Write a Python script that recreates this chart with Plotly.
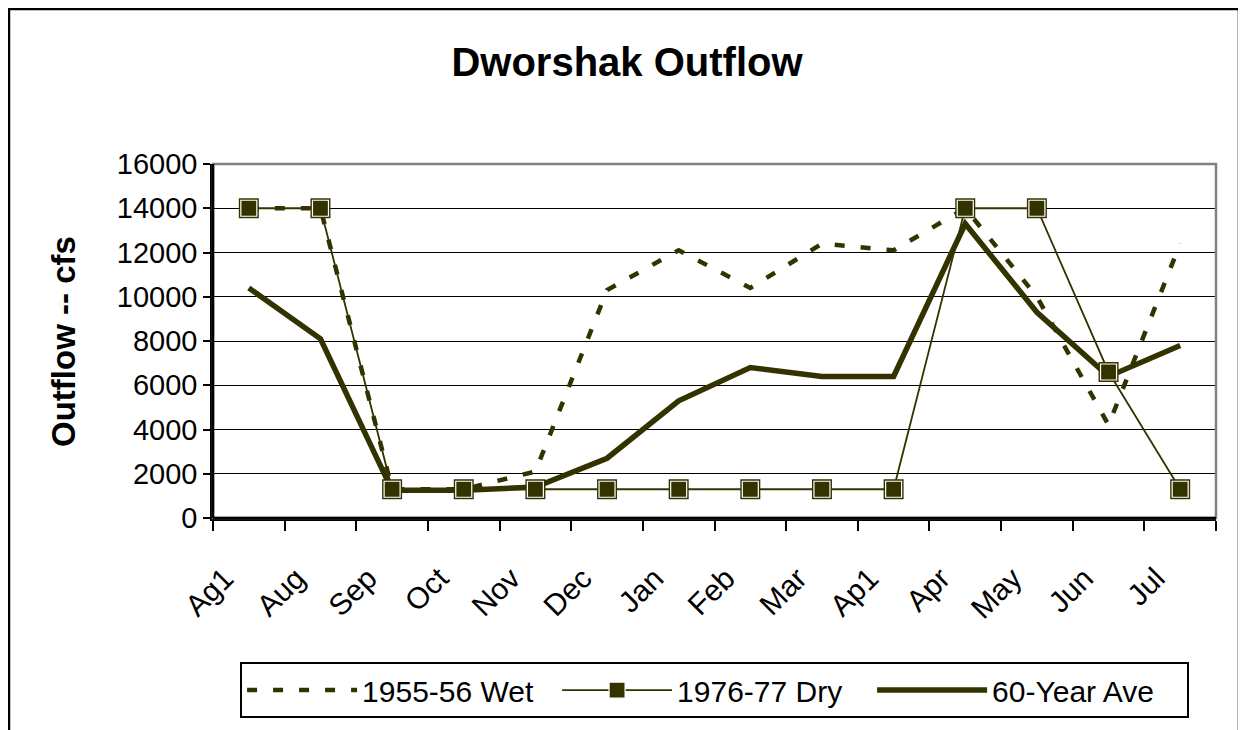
import plotly.graph_objects as go

# chart data
months = ["Ag1", "Aug", "Sep", "Oct", "Nov", "Dec", "Jan",
          "Feb", "Mar", "Ap1", "Apr", "May", "Jun", "Jul"]
wet_1955 = [14000, 14000, 1300, 1300, 2100, 10300, 12100,
            10400, 12400, 12100, 14000, 10000, 4200, 12400]
dry_1976 = [14000, 14000, 1300, 1300, 1300, 1300, 1300,
            1300, 1300, 1300, 14000, 14000, 6600, 1300]
ave_60yr = [10400, 8100, 1250, 1250, 1400, 2700, 5300,
            6800, 6400, 6400, 13300, 9300, 6400, 7800]

olive = "#333300"
font = "Arial, Liberation Sans, sans-serif"

fig = go.Figure()

fig.add_trace(go.Scatter(
    x=months, y=wet_1955, name="1955-56 Wet", mode="lines",
    line=dict(color=olive, width=4.5, dash="10px,16px"),
    legendrank=1,
))

fig.add_trace(go.Scatter(
    x=months, y=ave_60yr, name="60-Year Ave", mode="lines",
    line=dict(color=olive, width=5.5),
    legendrank=3,
))

# dark outer edge of the square markers
fig.add_trace(go.Scatter(
    x=months, y=dry_1976, mode="markers", showlegend=False, hoverinfo="skip",
    marker=dict(symbol="square", size=20, color=olive, line=dict(width=0)),
))

fig.add_trace(go.Scatter(
    x=months, y=dry_1976, name="1976-77 Dry", mode="lines+markers",
    line=dict(color=olive, width=1.8),
    marker=dict(symbol="square", size=16, color=olive,
                line=dict(color="white", width=1.2)),
    legendrank=2,
))

fig.update_xaxes(
    type="category",
    showgrid=False,
    showline=True, linecolor="black", linewidth=2.5,
    ticks="outside", tickson="boundaries", ticklen=10, tickwidth=2, tickcolor="black",
    tickangle=-45,
    tickfont=dict(family=font, size=30, color="black"),
    ticklabelstandoff=28, ticklabelshift=-24,
    range=[-0.5, 13.5],
)

fig.update_yaxes(
    range=[0, 16000], dtick=2000, tickformat="d",
    showgrid=True, gridcolor="black", gridwidth=1.2,
    zeroline=False,
    showline=True, linecolor="black", linewidth=2.5,
    ticks="outside", ticklen=7, tickwidth=1.5, tickcolor="black",
    tickfont=dict(family=font, size=29, color="black"),
)

# plot area border (gray top and right)
fig.add_shape(type="rect", xref="paper", yref="paper",
              x0=0, y0=0, x1=1, y1=1,
              line=dict(color="#808080", width=2.5), layer="above")
fig.add_shape(type="line", xref="paper", yref="paper",
              x0=0, y0=0, x1=0, y1=1,
              line=dict(color="black", width=2.5), layer="above")
fig.add_shape(type="line", xref="paper", yref="paper",
              x0=0, y0=0, x1=1, y1=0,
              line=dict(color="black", width=2.5), layer="above")

# outer chart frame
fig.add_shape(type="rect", xref="paper", yref="paper",
              x0=-0.2034, y0=-0.62, x1=1.0229, y1=1.4379,
              line=dict(color="black", width=2.5), layer="above")

fig.add_annotation(
    text="<b>Outflow -- cfs</b>", textangle=-90,
    xref="paper", yref="paper", x=-0.1496, y=0.5,
    xanchor="center", yanchor="middle",
    showarrow=False, font=dict(family=font, size=33, color="black"),
)

fig.update_layout(
    width=1238, height=722, autosize=False,
    margin=dict(l=205, r=30, t=156, b=212),
    paper_bgcolor="white", plot_bgcolor="white",
    title=dict(text="<b>Dworshak Outflow</b>", x=0.5, xref="container",
               y=0.925, yref="container", yanchor="middle",
               font=dict(family=font, size=40, color="black")),
    showlegend=True,
    legend=dict(
        orientation="h", x=0.027, xanchor="left", y=-0.407, yanchor="top",
        bgcolor="white", bordercolor="black", borderwidth=2,
        font=dict(family=font, size=30, color="black"),
        itemwidth=110, entrywidth=190, traceorder="normal",
    ),
)

fig.write_html("out.html")
